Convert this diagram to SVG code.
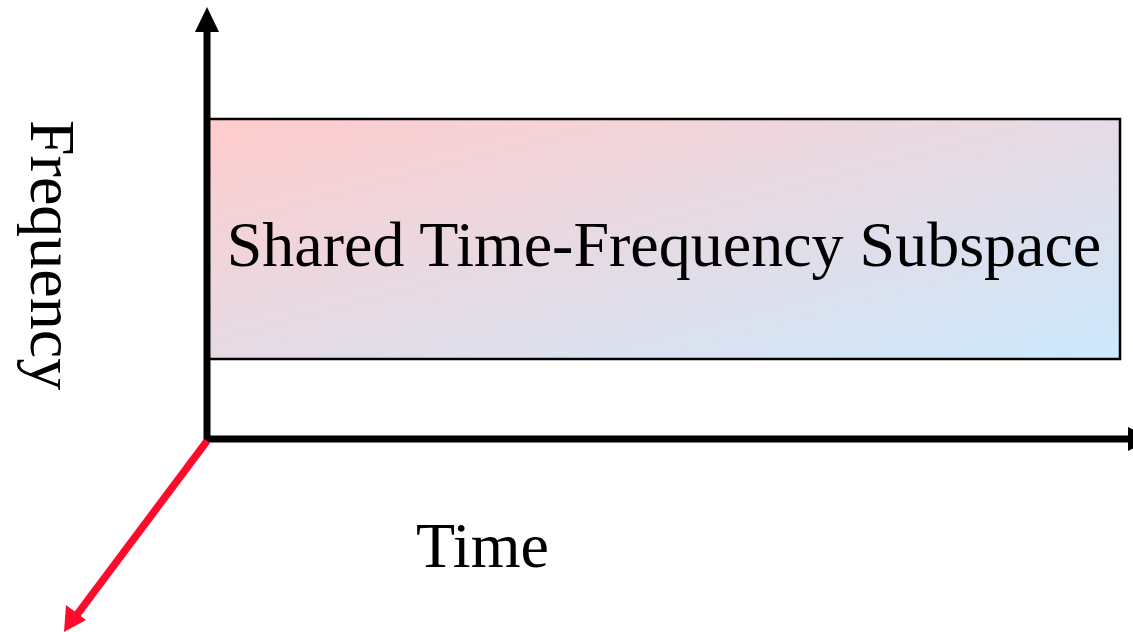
<svg xmlns="http://www.w3.org/2000/svg" width="1133" height="632" viewBox="0 0 1133 632">
<style>
.lbl{font-family:"Liberation Serif","Times New Roman",serif;font-size:64px;fill:#000}
.axis{stroke:#000;stroke-width:7;fill:none}
.head{fill:#000}
</style>
<defs>
<linearGradient id="g" x1="0" y1="0" x2="1" y2="1">
<stop offset="0" stop-color="#ffcccc"/>
<stop offset="1" stop-color="#cce9fd"/>
</linearGradient>
</defs>
<rect width="1133" height="632" fill="#fff"/>
<g id="subspace">
<rect x="208" y="119" width="912" height="240" fill="url(#g)" stroke="#000" stroke-width="2.5"/>
<text class="lbl" x="664" y="266" text-anchor="middle">Shared Time-Frequency Subspace</text>
</g>
<g id="connectors">
<line class="axis" x1="207" y1="442" x2="207" y2="28"/>
<polygon class="head" points="207,7 195,32 219,32"/>
<line class="axis" x1="204" y1="439" x2="1130" y2="439"/>
<polygon class="head" points="1151,439 1128,427 1128,451"/>
<line x1="207" y1="441" x2="76" y2="616" stroke="#ff0a2a" stroke-width="7.5"/>
<polygon fill="#ff0a2a" points="64,632 66,605 86,620"/>
</g>
<g id="freq-label">
<text class="lbl" transform="translate(31,120) rotate(90)">Frequency</text>
</g>
<g id="time-label">
<text class="lbl" x="416" y="567">Time</text>
</g>
</svg>
